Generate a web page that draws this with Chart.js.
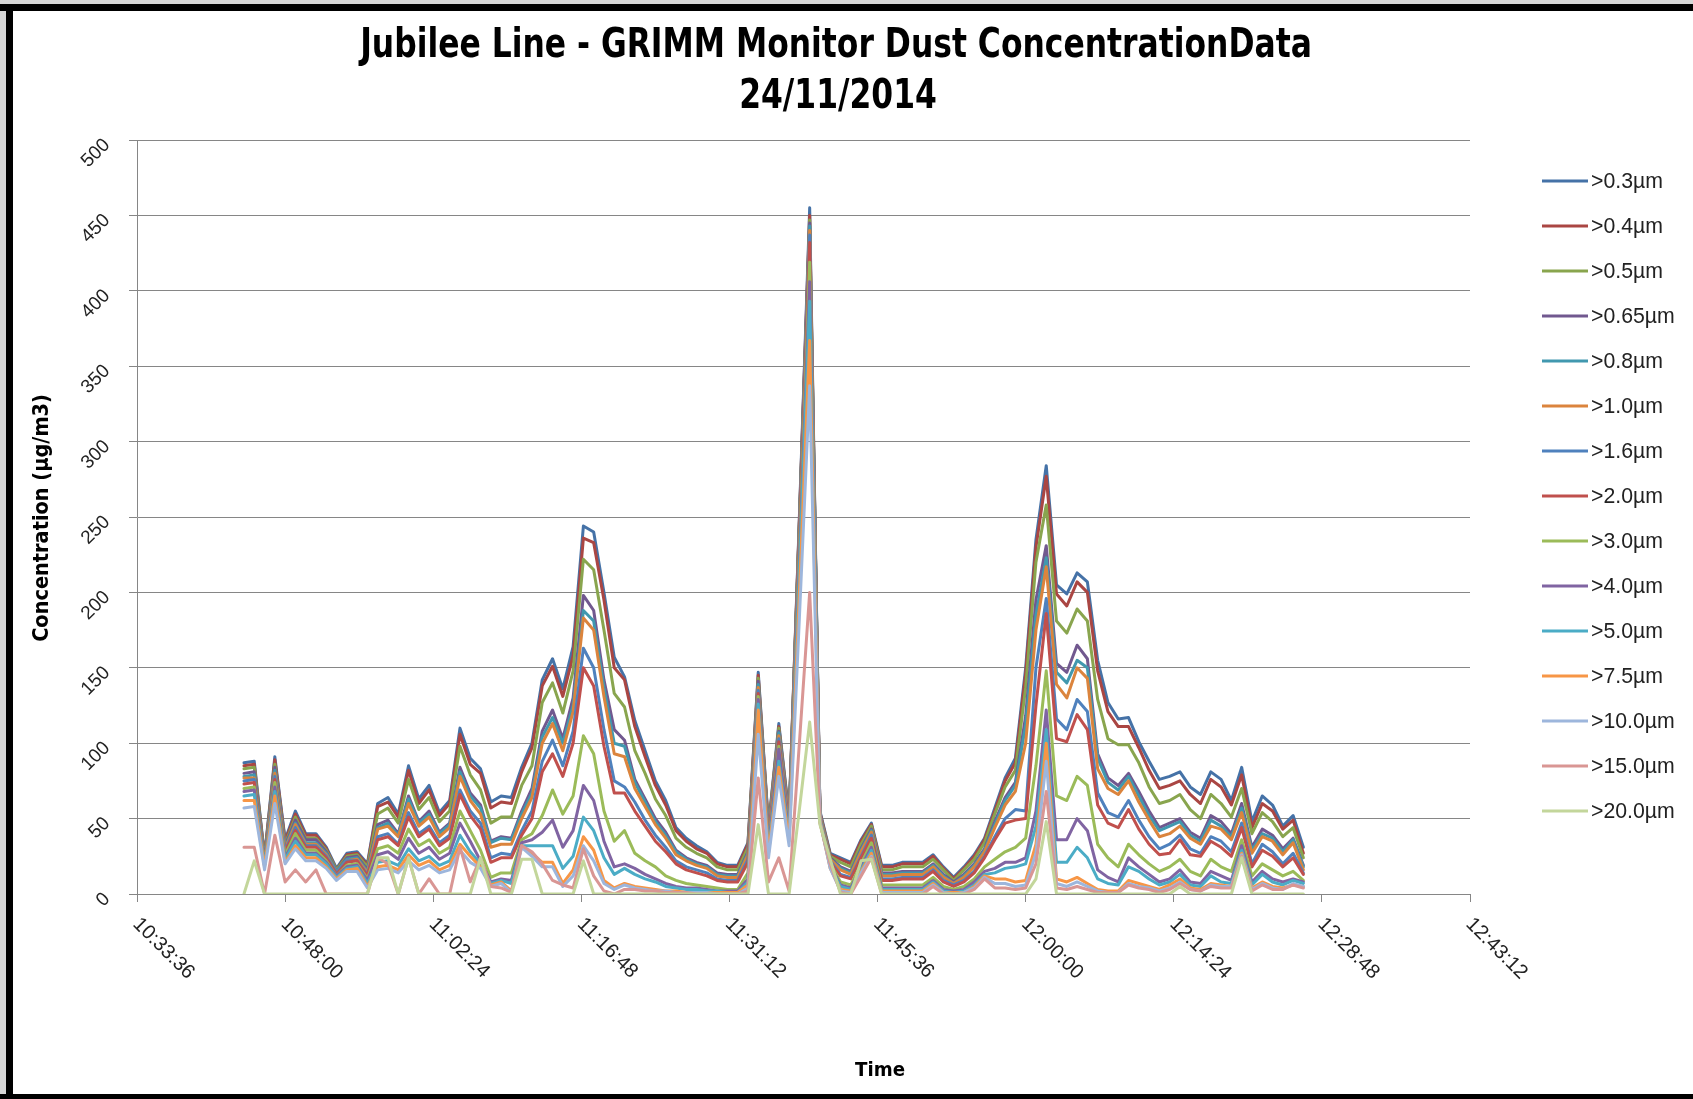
<!DOCTYPE html>
<html><head><meta charset="utf-8">
<script src="https://cdn.jsdelivr.net/npm/chart.js@4.4.1/dist/chart.umd.min.js"></script>
<style>html,body{margin:0;padding:0;background:#fff;overflow:hidden}canvas{display:block}</style>
</head><body>
<canvas id="c" width="1693" height="1099"></canvas>
<script>
const chartTitle = ['Jubilee Line - GRIMM Monitor Dust ConcentrationData', '24/11/2014'];
const xAxisTitle = 'Time';
const yAxisTitle = 'Concentration (µg/m3)';
const xTickLabels = ['10:33:36','10:48:00','11:02:24','11:16:48','11:31:12','11:45:36','12:00:00','12:14:24','12:28:48','12:43:12'];
const yTickValues = [0,50,100,150,200,250,300,350,400,450,500];
const seriesLabels = ['>0.3µm','>0.4µm','>0.5µm','>0.65µm','>0.8µm','>1.0µm','>1.6µm','>2.0µm','>3.0µm','>4.0µm','>5.0µm','>7.5µm','>10.0µm','>15.0µm','>20.0µm'];
const times = [
'10:44:00','10:45:00','10:46:00','10:47:00','10:48:00','10:49:00','10:50:00','10:51:00','10:52:00','10:53:00',
'10:54:00','10:55:00','10:56:00','10:57:00','10:58:00','10:59:00','11:00:00','11:01:00','11:02:00','11:03:00',
'11:04:00','11:05:00','11:06:00','11:07:00','11:08:00','11:09:00','11:10:00','11:11:00','11:12:00','11:13:00',
'11:14:00','11:15:00','11:16:00','11:17:00','11:18:00','11:19:00','11:20:00','11:21:00','11:22:00','11:23:00',
'11:24:00','11:25:00','11:26:00','11:27:00','11:28:00','11:29:00','11:30:00','11:31:00','11:32:00','11:33:00',
'11:34:00','11:35:00','11:36:00','11:37:00','11:38:00','11:39:00','11:40:00','11:41:00','11:42:00','11:43:00',
'11:44:00','11:45:00','11:46:00','11:47:00','11:48:00','11:49:00','11:50:00','11:51:00','11:52:00','11:53:00',
'11:54:00','11:55:00','11:56:00','11:57:00','11:58:00','11:59:00','12:00:00','12:01:00','12:02:00','12:03:00',
'12:04:00','12:05:00','12:06:00','12:07:00','12:08:00','12:09:00','12:10:00','12:11:00','12:12:00','12:13:00',
'12:14:00','12:15:00','12:16:00','12:17:00','12:18:00','12:19:00','12:20:00','12:21:00','12:22:00','12:23:00',
'12:24:00','12:25:00','12:26:00','12:27:00'];

const s03 = [87,88,25,91,36,55,40,40,31,17, 27,28,20,60,64,53,85,63,72,54, 62,110,90,83,61,65,64,84,100,142, 156,136,164,244,240,200,157,144,115,95, 75,62,44,37,32,28,21,19,19,34, 147,45,113,52,250,455,55,27,24,21, 36,47,19,19,21,21,21,26,18,11, 18,26,37,57,77,90,150,235,284,205, 199,213,207,155,127,116,117,101,88,76, 78,81,71,66,81,76,62,84,48,65, 59,45,52,31];
const s04 = [85,86,24,89,35,53,39,39,30,16, 26,27,19,58,61,51,82,60,69,52, 60,106,86,80,57,61,60,81,97,138, 151,131,158,236,233,195,150,142,111,91, 72,59,42,35,30,27,20,18,18,33, 145,44,111,51,248,450,54,26,23,20, 35,46,18,18,20,20,20,25,17,10, 17,25,36,55,75,87,146,230,277,199, 191,207,200,148,121,111,111,97,82,70, 72,75,66,60,76,71,59,79,44,60, 55,43,49,27];
const s05 = [83,84,24,86,33,51,37,37,29,16, 25,26,18,53,57,47,76,56,64,48, 55,98,79,69,47,51,51,72,85,127, 140,120,148,222,215,175,133,124,95,80, 63,52,37,31,27,24,18,16,16,31, 143,43,110,50,246,447,53,25,21,18, 33,45,16,16,18,18,18,23,16,9, 16,23,34,53,71,82,137,220,258,181, 173,189,181,129,103,99,99,87,71,60, 62,66,56,50,66,60,51,70,40,54, 48,38,44,24];
const s065 = [80,81,23,84,32,49,36,36,28,15, 24,25,16,46,49,40,65,48,55,41, 47,84,67,59,35,38,37,55,70,108, 122,103,130,198,188,142,109,102,76,63, 50,41,29,24,21,19,14,13,13,28, 141,41,108,49,245,445,53,24,18,15, 30,43,14,14,15,15,15,20,13,8, 13,20,30,48,64,74,118,195,231,153, 147,165,156,93,77,72,80,68,55,44, 47,50,41,37,52,48,40,60,31,43, 39,30,37,19];
const s08 = [78,79,22,82,31,47,34,34,27,15, 23,24,15,44,47,39,63,47,53,40, 46,81,65,57,34,37,36,53,67,104, 117,100,125,188,181,137,100,98,74,61, 48,39,28,23,20,18,13,12,12,27, 139,40,107,48,243,443,52,23,17,14, 29,42,13,13,14,14,14,19,12,7, 12,19,29,46,62,72,112,185,223,147, 140,155,150,90,74,69,78,65,52,42, 45,48,39,35,49,45,38,57,29,40, 37,28,36,18];
const s10 = [77,77,22,80,30,46,33,33,26,14, 22,23,14,43,45,38,60,45,51,38, 44,78,62,53,31,33,33,50,64,100, 113,95,121,183,175,131,93,91,70,58, 46,37,26,22,19,17,12,11,11,26, 137,39,105,47,241,440,52,23,16,13, 28,41,12,12,13,13,13,18,11,7, 11,18,28,44,59,68,100,175,217,139, 130,150,143,83,70,66,75,61,49,38, 40,45,37,33,45,43,36,54,27,38, 35,26,34,16];
const s16 = [75,76,21,78,29,44,32,32,25,14, 22,22,13,38,40,33,54,40,45,34, 39,69,55,47,24,27,26,42,55,88, 102,85,108,163,150,109,75,71,61,49, 39,31,22,18,16,14,10,9,9,23, 135,37,103,45,239,437,51,22,13,11, 25,39,10,10,11,11,11,16,9,6, 9,15,25,38,50,56,55,150,196,116, 109,129,121,67,54,51,62,49,38,30, 33,39,30,27,38,35,28,47,20,33, 28,20,27,14];
const s20 = [73,74,21,76,28,42,31,31,24,13, 21,22,12,36,38,32,51,38,43,32, 37,66,52,43,21,24,24,39,50,81, 93,78,100,150,138,98,67,67,55,45, 35,28,20,16,14,12,9,8,8,21, 133,36,101,44,236,432,50,21,12,10, 24,37,9,9,10,10,10,15,8,5, 8,14,24,36,47,49,50,125,186,103, 101,119,109,59,47,44,56,43,33,26, 27,36,26,25,35,31,25,44,18,29, 25,18,24,13];
const s30 = [70,71,20,74,26,40,29,29,22,12, 19,20,10,30,32,27,43,32,36,27, 31,55,42,29,11,14,14,36,40,52, 69,53,65,105,93,55,35,42,27,22, 18,12,9,7,6,5,4,3,3,14, 131,33,98,41,228,419,50,20,8,6, 20,34,6,6,6,6,6,11,5,3, 5,10,18,23,28,31,37,85,148,65, 62,78,72,33,24,18,33,26,20,15, 18,23,15,12,23,18,15,36,12,20, 16,12,15,9];
const s40 = [68,69,19,71,24,37,27,27,21,12, 18,19,9,26,28,23,37,27,31,23, 27,47,35,22,8,10,9,34,36,41, 49,31,42,72,62,35,18,20,17,13, 10,7,5,4,4,3,2,2,2,10, 129,31,96,39,221,406,49,19,6,4, 18,31,4,4,4,4,4,9,3,2, 3,8,15,17,21,21,24,55,122,36, 36,50,42,16,11,8,24,18,13,8, 10,16,8,7,15,12,9,32,8,15, 10,8,10,8];
const s50 = [65,66,19,68,23,35,26,26,20,11, 17,18,7,21,22,19,30,22,25,19, 22,39,28,20,7,9,7,32,32,32, 32,17,25,51,42,24,13,17,13,10, 8,5,4,3,3,2,2,1,1,8, 126,29,88,37,214,393,49,18,5,3, 16,29,3,3,3,3,3,8,2,1, 2,6,13,14,17,18,20,45,109,21, 21,31,24,10,7,6,18,15,10,6, 8,13,6,5,12,8,7,29,6,13, 8,6,9,7];
const s75 = [62,62,18,65,21,32,24,24,18,10, 16,17,5,18,19,16,26,19,22,16, 19,33,25,18,6,8,2,32,27,21, 21,7,16,38,29,9,4,7,5,4, 3,2,2,1,1,1,1,1,1,6, 122,27,84,35,200,367,48,17,3,2, 15,27,2,2,2,2,2,7,1,1, 1,5,12,10,10,8,9,33,100,10, 8,11,7,3,2,2,9,7,5,3, 6,10,4,3,7,6,5,27,4,8, 5,4,6,5];
const s100 = [57,58,16,60,20,30,22,22,17,9, 15,15,4,16,17,14,22,16,19,14, 16,29,21,17,5,7,1,31,25,18, 18,5,12,32,22,7,3,6,4,3, 2,2,1,1,1,1,0,0,0,4, 106,24,78,32,183,337,48,17,2,1, 14,25,1,1,1,1,1,6,1,0, 1,4,11,7,7,5,6,27,88,7, 5,8,5,2,1,1,7,5,4,2, 4,8,3,2,6,5,5,26,3,7, 4,3,7,5];
const s150 = [31,31,0,39,8,16,8,16,0,0, 0,0,0,24,20,0,24,0,10,0, 0,31,8,24,5,4,1,32,28,20, 9,6,4,30,12,2,0,3,3,2, 2,1,1,1,0,0,0,0,0,2, 77,8,24,2,100,200,47,20,1,0, 12,24,0,0,0,0,0,5,0,0, 0,3,10,4,4,3,4,20,68,4, 3,5,3,1,1,1,6,4,3,1, 3,7,3,2,5,4,4,25,2,6, 3,3,6,4];
const s200 = [0,22,0,0,0,0,0,0,0,0, 0,0,0,24,24,0,24,0,0,0, 0,0,0,24,0,0,0,23,23,0, 0,0,0,22,0,0,0,0,0,0, 0,0,0,0,0,0,0,0,0,0, 46,0,0,0,56,114,46,23,0,0, 22,23,0,0,0,0,0,0,0,0, 0,0,0,0,0,0,0,10,48,0, 0,0,0,0,0,0,0,0,0,0, 0,5,0,0,0,0,0,24,0,0, 0,0,0,0];

const seriesColors = ['#4572A7','#AA4643','#89A54E','#71588F','#4198AF','#DB843D','#4F81BD','#C0504D','#9BBB59','#8064A2','#4BACC6','#F79646','#9DB6DC','#D99694','#C3D69B'];

function toSec(t){ const p = t.split(':').map(Number); return p[0]*3600 + p[1]*60 + (p[2]||0); }
const allSeries = [s03,s04,s05,s065,s08,s10,s16,s20,s30,s40,s50,s75,s100,s150,s200];
const xSecs = times.map(toSec);
const datasets = allSeries.map((vals, i) => ({
  label: seriesLabels[i],
  data: vals.map((v, j) => ({ x: xSecs[j], y: v })),
  borderColor: seriesColors[i],
  backgroundColor: seriesColors[i],
  borderWidth: 3,
  pointRadius: 0,
  pointHoverRadius: 0,
  tension: 0,
  fill: false,
  order: 100 - i
}));

const FAM = '"Liberation Sans", Arial, sans-serif';
const FAMN = '"Liberation Sans Narrow", "DejaVu Sans Condensed", "Liberation Sans", sans-serif';
function fitSize(ctx, text, weight, fam, target){
  ctx.font = weight + ' 100px ' + fam;
  return 100 * target / ctx.measureText(text).width;
}

const decor = {
  id: 'decor',
  beforeDraw(chart){
    const c = chart.ctx, W = chart.width, H = chart.height;
    c.save();
    c.fillStyle = '#ffffff'; c.fillRect(0,0,W,H);
    c.fillStyle = '#d6d6d6'; c.fillRect(0,0,W,4); c.fillRect(0,0,6,H);
    c.fillStyle = '#000000';
    c.fillRect(0,4,W,7);
    c.fillRect(6,4,7,H-4);
    c.fillRect(0,1094,W,5);
    c.restore();
  },
  afterDraw(chart){
    const c = chart.ctx, xs = chart.scales.x, ys = chart.scales.y;
    c.save();
    c.fillStyle = '#000';
    // Title
    let ts = fitSize(c, chartTitle[0], 'bold', FAMN, 952);
    c.font = 'bold ' + ts + 'px ' + FAMN;
    c.textAlign = 'center'; c.textBaseline = 'middle';
    c.save(); c.translate(836, 47); c.scale(1, 1.15); c.fillText(chartTitle[0], 0, 0); c.restore();
    c.save(); c.translate(838, 98); c.scale(1, 1.15); c.fillText(chartTitle[1], 0, 0); c.restore();
    // axis titles
    let xt = fitSize(c, xAxisTitle, 'bold', FAMN, 50);
    c.font = 'bold ' + xt + 'px ' + FAMN;
    c.fillText(xAxisTitle, 880, 1071);
    let yt = fitSize(c, yAxisTitle, 'bold', FAMN, 248);
    c.font = 'bold ' + yt + 'px ' + FAMN;
    c.save(); c.translate(42, 518); c.rotate(-Math.PI/2); c.fillText(yAxisTitle, 0, 0); c.restore();
    // Y tick labels
    c.fillStyle = '#222';
    c.font = '19px ' + FAM;
    c.textAlign = 'right'; c.textBaseline = 'middle';
    yTickValues.forEach(v => {
      const y = ys.getPixelForValue(v);
      c.save(); c.translate(107, y + 2); c.rotate(-Math.PI/4); c.fillText(String(v), 0, 0); c.restore();
    });
    // X tick labels
    c.font = '20px ' + FAM;
    c.textAlign = 'left';
    xTickLabels.forEach(l => {
      const x = xs.getPixelForValue(toSec(l));
      c.save(); c.translate(x - 1, 921); c.rotate(Math.PI/4); c.fillText(l, 0, 0); c.restore();
    });
    // Legend
    let ls = fitSize(c, seriesLabels[0], 'normal', FAM, 72);
    c.font = ls + 'px ' + FAM;
    c.textAlign = 'left'; c.textBaseline = 'middle';
    seriesLabels.forEach((lab, i) => {
      const y = 181 + i * 45;
      c.strokeStyle = seriesColors[i]; c.lineWidth = 2.8;
      c.beginPath(); c.moveTo(1542, y); c.lineTo(1588, y); c.stroke();
      c.fillStyle = '#222';
      c.fillText(lab, 1591, y + 1);
    });
    c.restore();
  }
};

new Chart(document.getElementById('c'), {
  type: 'line',
  data: { datasets },
  options: {
    responsive: false,
    animation: false,
    devicePixelRatio: 1,
    layout: { padding: { left: 129, right: 223, top: 140, bottom: 197 } },
    plugins: { legend: { display: false }, title: { display: false }, tooltip: { enabled: false } },
    elements: { line: { borderCapStyle: 'round', borderJoinStyle: 'round' } },
    scales: {
      x: {
        type: 'linear',
        min: toSec(xTickLabels[0]),
        max: toSec(xTickLabels[xTickLabels.length - 1]),
        ticks: { display: false, stepSize: toSec(xTickLabels[1]) - toSec(xTickLabels[0]) },
        grid: { drawOnChartArea: false, drawTicks: true, tickLength: 8, color: '#868686', lineWidth: 1 },
        border: { display: true, color: '#868686', width: 1 }
      },
      y: {
        type: 'linear',
        min: yTickValues[0],
        max: yTickValues[yTickValues.length - 1],
        ticks: { display: false, stepSize: yTickValues[1] - yTickValues[0] },
        grid: { drawTicks: true, tickLength: 8, color: '#868686', lineWidth: 1 },
        border: { display: true, color: '#868686', width: 1 }
      }
    }
  },
  plugins: [decor]
});
</script>
</body></html>
